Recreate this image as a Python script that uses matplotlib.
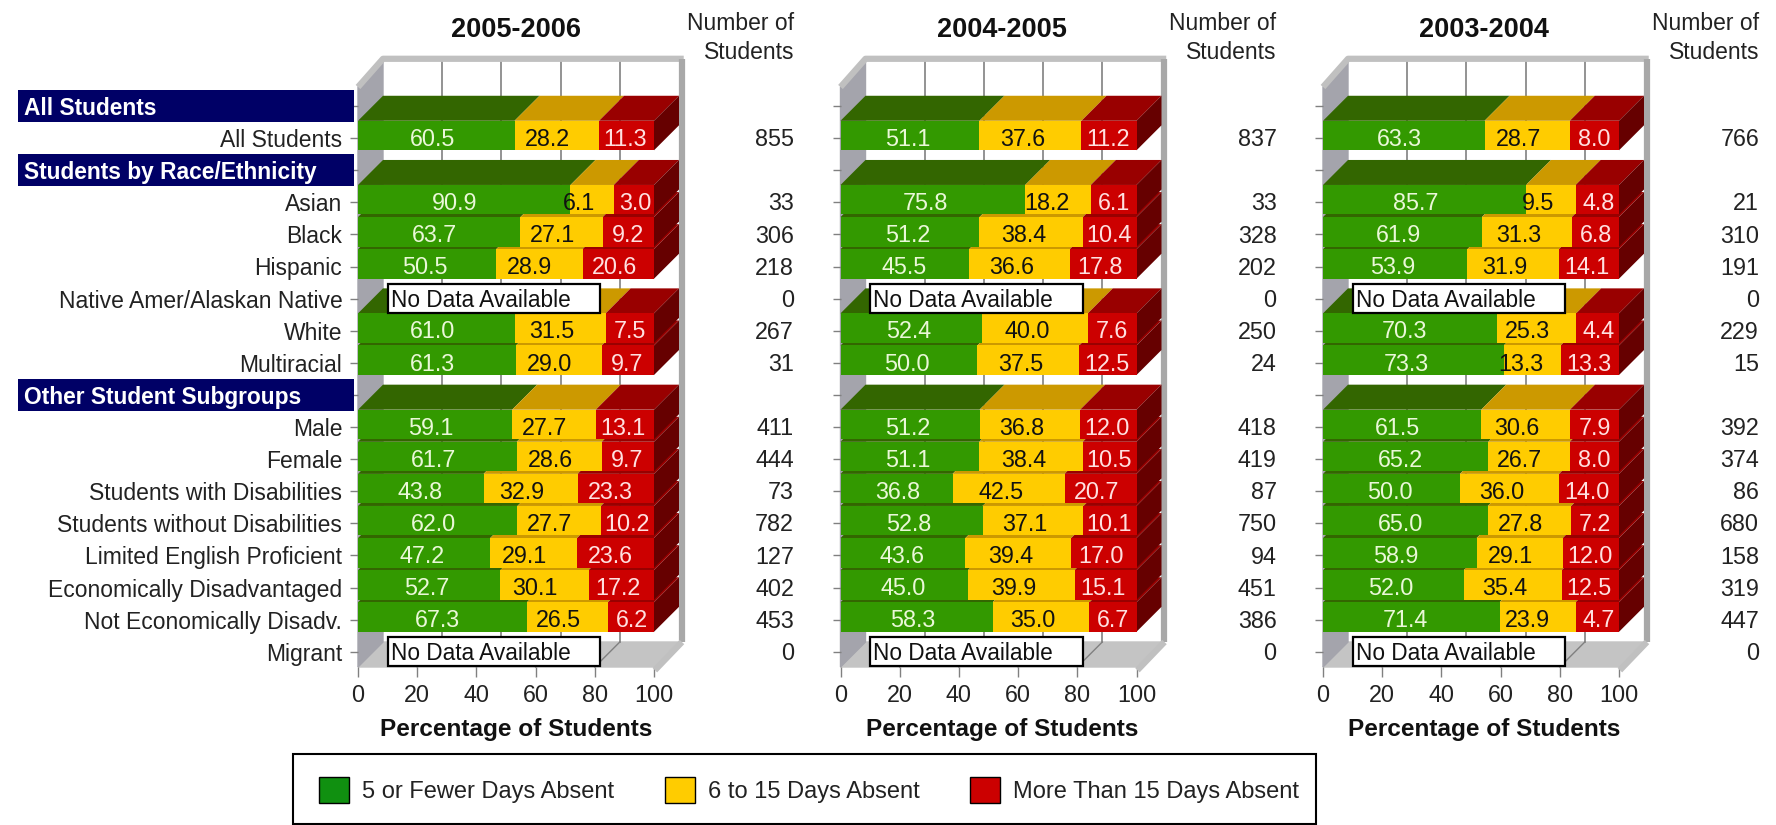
import matplotlib
matplotlib.use('Agg')
import matplotlib.pyplot as plt
import numpy as np
from matplotlib.patches import Patch, Rectangle

plt.rcParams['font.family'] = ['Liberation Sans', 'DejaVu Sans']

nan = np.nan

rows = ['All Students', 'All Students', 'Students by Race/Ethnicity', 'Asian', 'Black',
        'Hispanic', 'Native Amer/Alaskan Native', 'White', 'Multiracial',
        'Other Student Subgroups', 'Male', 'Female', 'Students with Disabilities',
        'Students without Disabilities', 'Limited English Proficient',
        'Economically Disadvantaged', 'Not Economically Disadv.', 'Migrant']
header_rows = [0, 2, 9]
no_data_rows = [6, 17]

years = ['2005-2006', '2004-2005', '2003-2004']
legend_labels = ['5 or Fewer Days Absent', '6 to 15 Days Absent', 'More Than 15 Days Absent']

low_0506 = [nan, 60.5, nan, 90.9, 63.7, 50.5, nan, 61.0, 61.3, nan, 59.1, 61.7, 43.8, 62.0, 47.2, 52.7, 67.3, nan]
mid_0506 = [nan, 28.2, nan, 6.1, 27.1, 28.9, nan, 31.5, 29.0, nan, 27.7, 28.6, 32.9, 27.7, 29.1, 30.1, 26.5, nan]
high_0506 = [nan, 11.3, nan, 3.0, 9.2, 20.6, nan, 7.5, 9.7, nan, 13.1, 9.7, 23.3, 10.2, 23.6, 17.2, 6.2, nan]
count_0506 = [None, 855, None, 33, 306, 218, 0, 267, 31, None, 411, 444, 73, 782, 127, 402, 453, 0]

low_0405 = [nan, 51.1, nan, 75.8, 51.2, 45.5, nan, 52.4, 50.0, nan, 51.2, 51.1, 36.8, 52.8, 43.6, 45.0, 58.3, nan]
mid_0405 = [nan, 37.6, nan, 18.2, 38.4, 36.6, nan, 40.0, 37.5, nan, 36.8, 38.4, 42.5, 37.1, 39.4, 39.9, 35.0, nan]
high_0405 = [nan, 11.2, nan, 6.1, 10.4, 17.8, nan, 7.6, 12.5, nan, 12.0, 10.5, 20.7, 10.1, 17.0, 15.1, 6.7, nan]
count_0405 = [None, 837, None, 33, 328, 202, 0, 250, 24, None, 418, 419, 87, 750, 94, 451, 386, 0]

low_0304 = [nan, 63.3, nan, 85.7, 61.9, 53.9, nan, 70.3, 73.3, nan, 61.5, 65.2, 50.0, 65.0, 58.9, 52.0, 71.4, nan]
mid_0304 = [nan, 28.7, nan, 9.5, 31.3, 31.9, nan, 25.3, 13.3, nan, 30.6, 26.7, 36.0, 27.8, 29.1, 35.4, 23.9, nan]
high_0304 = [nan, 8.0, nan, 4.8, 6.8, 14.1, nan, 4.4, 13.3, nan, 7.9, 8.0, 14.0, 7.2, 12.0, 12.5, 4.7, nan]
count_0304 = [None, 766, None, 21, 310, 191, 0, 229, 15, None, 392, 374, 86, 680, 158, 319, 447, 0]

panels = [(low_0506, mid_0506, high_0506, count_0506),
          (low_0405, mid_0405, high_0405, count_0405),
          (low_0304, mid_0304, high_0304, count_0304)]

FRONT = ['#339900', '#FFCC00', '#CC0000']
TOP = ['#336600', '#CC9900', '#990000']
SIDE = '#660000'

# pixel layout of the picture
W, H = 1776, 825
panel_left = [358, 840.5, 1323]
panel_w = 296
title_x = [53.5, 54.5, 54.5]
top_px, bottom_px = 87, 667
row0_px, row_px = 106, 32.1
DX = 25 / panel_w * 100
DY = 25 / row_px
BAR_H = 0.92
BAR_SHIFT = -0.08

# the source chart pads each segment so its label fits, so bars are not to scale
PAD = [13.5, 11.0, 12.0]
SLOPE = [0.65, 0.62, 0.58]
# where the labels sit inside a segment: offset and share of the value
LABEL_A = [10.1, 0.7, 6.8]
LABEL_B = [0.247, 0.37, 0.19]
LABEL_COLOR = ['#EAF8D8', '#111111', '#FFE0E0']
FS = 16.8


def draw_walls(ax):
    ymin, ymax = ax.get_ylim()
    # back wall, floor and left wall
    ax.fill([DX, 100 + DX, 100 + DX, DX], [ymin - DY, ymin - DY, ymax - DY, ymax - DY],
            color='white', zorder=0, clip_on=False)
    ax.fill([0, 100, 100 + DX, DX], [ymin, ymin, ymin - DY, ymin - DY],
            color='#C4C4C4', zorder=1, clip_on=False)
    ax.fill([0, DX, DX, 0], [ymin, ymin - DY, ymax - DY, ymax],
            color='#A4A4AC', zorder=1, clip_on=False)
    for t in [20, 40, 60, 80]:
        ax.plot([t + DX, t + DX], [ymin - DY, ymax - DY], color='#808080', lw=1.2, zorder=1, clip_on=False)
        ax.plot([t, t + DX], [ymin, ymin - DY], color='#808080', lw=1.0, zorder=2, clip_on=False)
    # raised frame round the walls
    edge = '#C0C0C0'
    ax.plot([0, DX, 100 + DX + 1.6], [ymax, ymax - DY - 0.1, ymax - DY - 0.1], color=edge, lw=4.5,
            zorder=3, clip_on=False, solid_capstyle='butt')
    ax.plot([100 + DX + 1.0, 100 + DX + 1.0], [ymax - DY - 0.1, ymin - DY], color='#A8A8A8', lw=4.5,
            zorder=3, clip_on=False, solid_capstyle='butt')
    ax.plot([100 + 0.3, 100 + DX + 1.0], [ymin + 0.1, ymin - DY], color=edge, lw=4.5,
            zorder=3, clip_on=False, solid_capstyle='butt')


def draw_row(ax, r, values):
    widths = [PAD[k] + SLOPE[k] * values[k] for k in range(3)]
    scale = 100 / sum(widths)
    widths = [w * scale for w in widths]
    y = r + BAR_SHIFT
    top = y - BAR_H / 2
    bottom = y + BAR_H / 2
    # lower rows go first, each bar's front covers the top face of the one below
    z = 40 - r
    left = 0
    for k in range(3):
        w = widths[k]
        ax.fill([left, left + w, left + w + DX, left + DX], [top, top, top - DY, top - DY],
                color=TOP[k], zorder=z, clip_on=False, lw=0)
        ax.barh(y, w, height=BAR_H, left=left, color=FRONT[k], zorder=z + 0.2, clip_on=False)
        ax.text(left + LABEL_A[k] + LABEL_B[k] * values[k], r + 0.04, f'{values[k]:.1f}',
                color=LABEL_COLOR[k], fontsize=FS, ha='center', va='center', zorder=50)
        left += w
    ax.fill([100, 100 + DX, 100 + DX, 100], [top, top - DY, bottom - DY, bottom],
            color=SIDE, zorder=z + 0.1, clip_on=False, lw=0)


fig = plt.figure(figsize=(W / 100, H / 100), dpi=100)
y_low = (bottom_px - row0_px) / row_px
y_high = (top_px - row0_px) / row_px

for i, (low, mid, high, count) in enumerate(panels):
    ax = fig.add_axes([panel_left[i] / W, 1 - bottom_px / H, panel_w / W, (bottom_px - top_px) / H])
    ax.patch.set_alpha(0)
    ax.set_xlim(0, 100)
    ax.set_ylim(y_low, y_high)
    for s in ax.spines.values():
        s.set_visible(False)
    draw_walls(ax)

    for r in range(len(rows)):
        if not np.isnan(low[r]):
            draw_row(ax, r, (low[r], mid[r], high[r]))
        if r in no_data_rows:
            ax.add_patch(Rectangle((10, r - 0.46), 71.8, 0.92, fc='white', ec='black', lw=1.6,
                                   zorder=60, clip_on=False))
            ax.text(11, r + 0.06, 'No Data Available', fontsize=16.3, ha='left', va='center',
                    zorder=61, color='#111111')
        if count[r] is not None:
            ax.text(147.3, r + 0.05, str(count[r]), fontsize=FS, ha='right', va='center', color='#222222')

    ax.set_xticks([0, 20, 40, 60, 80, 100])
    ax.tick_params(axis='x', length=7.2, width=1, color='#808080', labelsize=FS, pad=5, labelcolor='#222222')
    ax.set_yticks(range(len(rows)))
    ax.tick_params(axis='y', length=5.8, width=1, color='#808080', labelsize=16.5, pad=5.5, labelcolor='#222222')
    if i == 0:
        ax.set_yticklabels(['' if r in header_rows else rows[r] for r in range(len(rows))])
    else:
        ax.set_yticklabels([])

    ax.set_xlabel('Percentage of Students', fontsize=17.6, fontweight='bold', labelpad=8,
                  x=title_x[i] / 100, color='#111111')
    ax.text(title_x[i], -2.37, years[i], fontsize=19.5, fontweight='bold', ha='center', va='center', color='#111111')
    ax.text(147.3, -2.56, 'Number of', fontsize=16.5, ha='right', va='center', color='#222222')
    ax.text(147.3, -1.66, 'Students', fontsize=16.5, ha='right', va='center', color='#222222')

    if i == 0:
        # navy section headers left of the first panel
        for r in header_rows:
            ax.add_patch(Rectangle((-115, r - 0.5), 113.6, 1.0, fc='#000066', ec='none', zorder=70, clip_on=False))
            ax.text(-113, r + 0.08, rows[r], color='white', fontsize=16.4, fontweight='bold',
                    ha='left', va='center', zorder=71)

# legend frame is wider on the left than the right, so it is its own box
fig.add_artist(Rectangle((293 / W, 1 - 824 / H), 1023 / W, 70 / H, transform=fig.transFigure,
                         fc='white', ec='black', lw=1.5))
handles = [Patch(facecolor=c, edgecolor='black', lw=1) for c in ['#109010', '#FFCC00', '#CC0000']]
fig.legend(handles, legend_labels, loc='center left', ncol=3, bbox_to_anchor=(319 / W, 1 - 790 / H),
           fontsize=17, frameon=False, handlelength=1.27, handleheight=1.3, handletextpad=0.55,
           columnspacing=2.15, borderpad=0, borderaxespad=0, labelcolor='#222222')

fig.savefig('out.png', dpi=100)
